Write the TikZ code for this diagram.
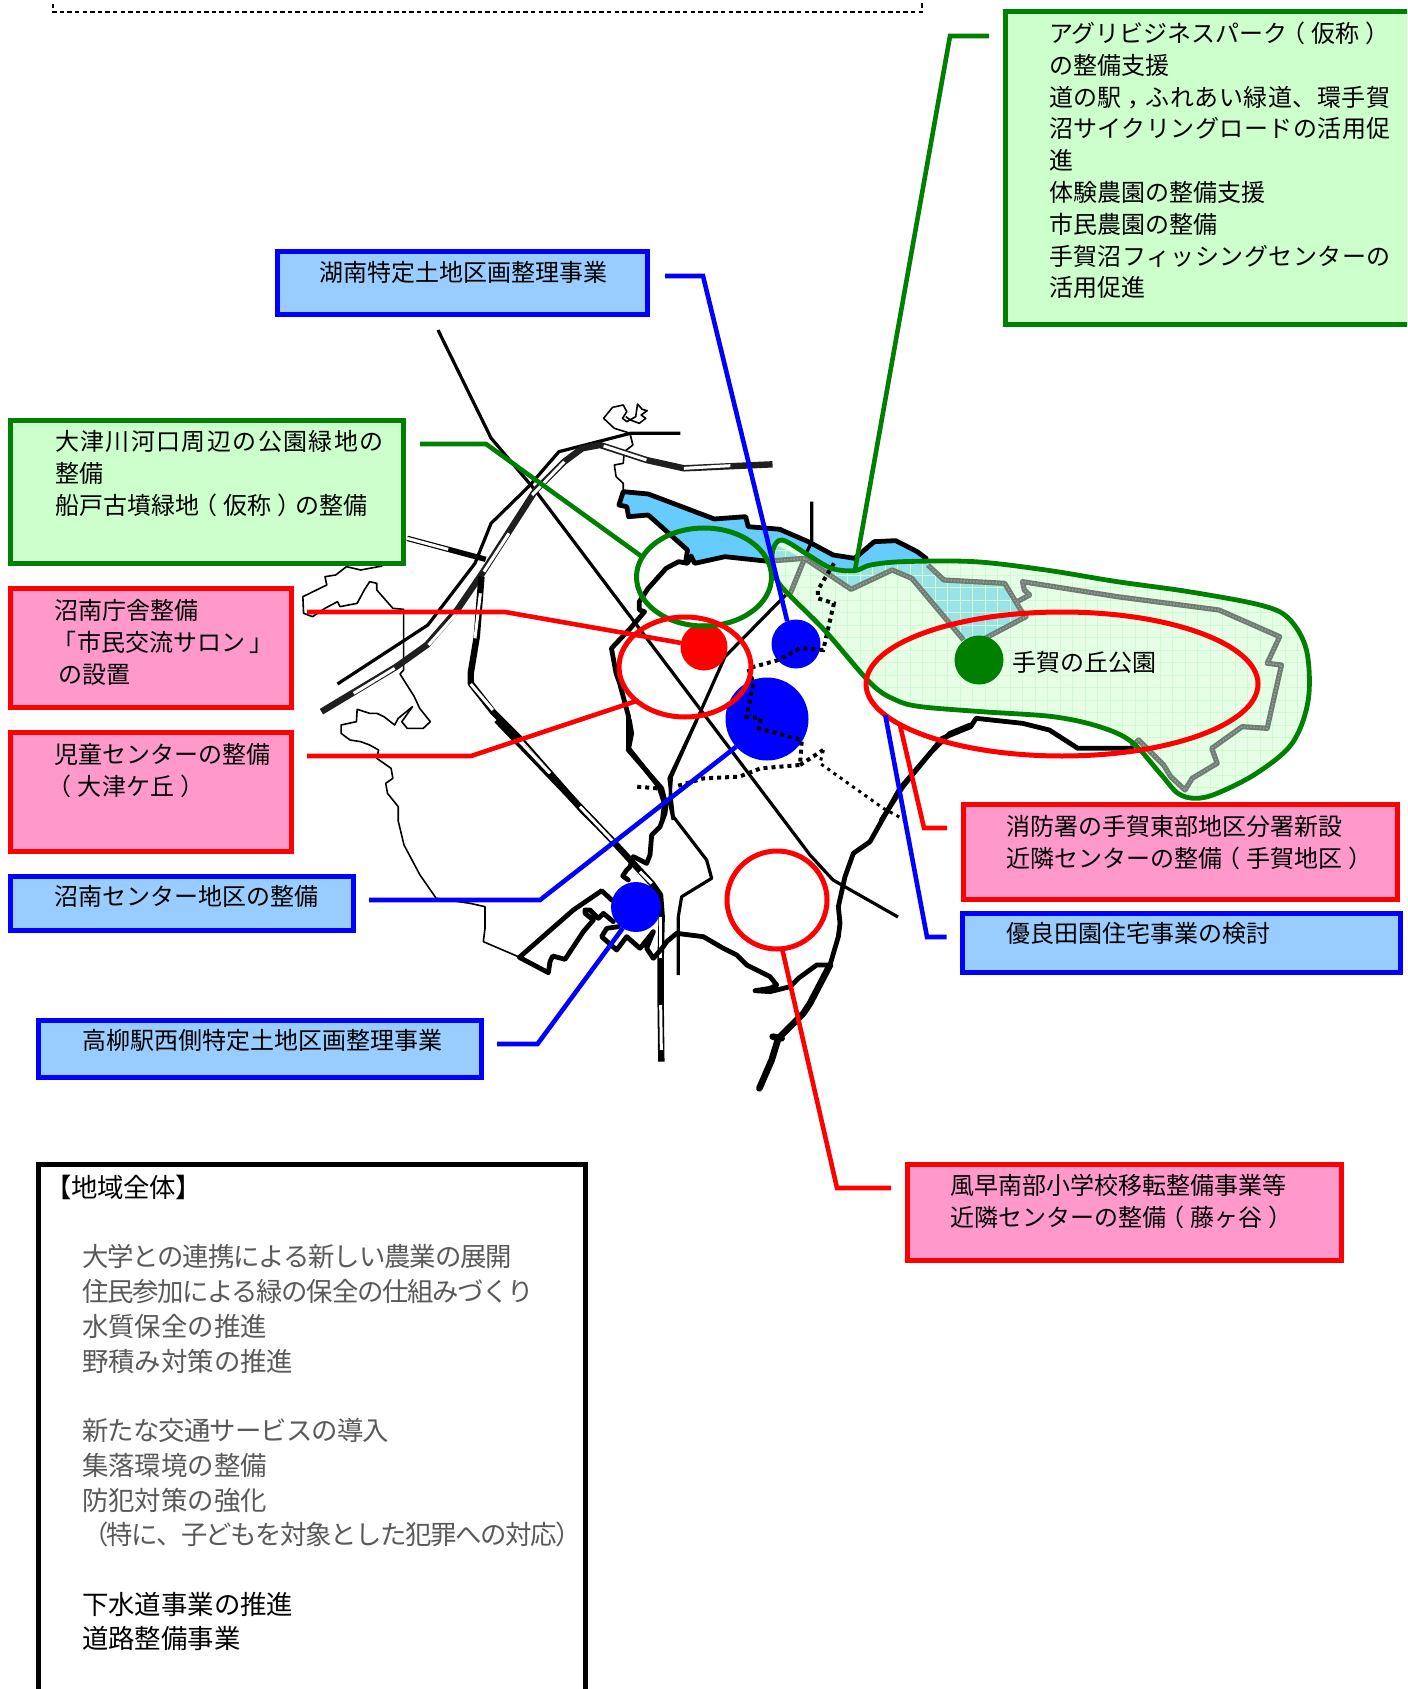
\documentclass[tikz,border=0pt]{standalone}
\usepackage{fontspec}
\setmainfont{Noto Sans CJK JP}
\usetikzlibrary{shapes.geometric}
\definecolor{gStroke}{HTML}{008000}
\definecolor{gFill}{HTML}{CCFFCC}
\definecolor{rFill}{HTML}{FF99CC}
\definecolor{bFill}{HTML}{99CCFF}
\definecolor{water}{HTML}{66CCFF}
\definecolor{parkfill}{HTML}{E6FEE6}
\definecolor{parkgrid}{HTML}{D2FAD2}
\definecolor{parkwater}{HTML}{99E3E6}
\definecolor{hatchA}{HTML}{6F7C72}
\definecolor{hatchB}{HTML}{98A49C}
\definecolor{soft}{HTML}{595959}
\tikzset{
  zA/.style={shift={(300,320)},xscale=.35714,yscale=.33333},
  zB/.style={shift={(760,500)},xscale=.35714,yscale=.33333},
  zC/.style={shift={(470,720)},xscale=.33333,yscale=.33333},
  boxg/.style={anchor=north west,draw=gStroke,fill=gFill,line width=2.4pt,outer sep=0pt,inner sep=0pt},
  boxr/.style={anchor=north west,draw=red,fill=rFill,line width=2.4pt,outer sep=0pt,inner sep=0pt},
  boxb/.style={anchor=north west,draw=blue,fill=bFill,line width=2.4pt,outer sep=0pt,inner sep=0pt},
  boxk/.style={anchor=north west,draw=black,fill=white,line width=2.6pt,outer sep=0pt,inner sep=0pt},
  txt/.style={anchor=north west,inner sep=0pt,outer sep=0pt,align=left,font=\fontsize{12}{15.9}\selectfont},
  road/.style={draw=black,line width=1.6pt,line join=round},
  bound/.style={draw=black,line width=2.4pt,line join=round,line cap=round},
  coast/.style={draw=black,line width=.8pt,line join=round},
  rail/.style={draw=black!88,line width=3.2pt,line join=round},
  railw/.style={draw=white,line width=1.5pt},
  dots/.style={draw=black,line width=2pt,dash pattern=on 2pt off 2pt},
  dotsthin/.style={draw=black,line width=1.5pt,dash pattern=on 1.6pt off 2.2pt},
  hatch/.style={draw=hatchA,line width=2.6pt,line join=round},
  hatchtop/.style={draw=hatchB,line width=.7pt,dash pattern=on .7pt off .9pt},
  conng/.style={draw=gStroke,line width=2.3pt,line join=miter},
  connr/.style={draw=red,line width=2.3pt,line join=miter},
  connb/.style={draw=blue,line width=2.3pt,line join=miter},
  ring/.style={ellipse,draw,line width=2.5pt,inner sep=0pt,outer sep=0pt},
  disc/.style={circle,inner sep=0pt,outer sep=0pt}
}
\newcommand{\ind}{\hspace*{18.5pt}}
\newcommand{\gl}[1]{\textcolor{soft}{#1}}
\newcommand{\lsp}[2]{{\addfontfeature{LetterSpace=#1}#2}}
\newcommand{\lpr}{\kern-3pt（\kern3pt}
\newcommand{\rpr}{\kern3pt）\kern-3pt}
\newcommand{\parkpath}{plot[smooth cycle,tension=.55] coordinates {(38,205)(36,150)(62,120)(135,165)(200,205)(265,212)(310,195)(400,185)(600,185)(800,210)(1000,245)(1200,275)(1400,315)(1480,355)(1530,450)(1535,600)(1490,730)(1390,820)(1280,880)(1220,895)(1170,880)(1120,820)(1040,725)(950,680)(820,650)(620,635)(450,620)(380,600)(310,550)(180,390)(60,260)}}
\begin{document}
\begin{tikzpicture}[x=.5pt,y=-.5pt]
\useasboundingbox (0,0) rectangle (1407,1689);
\clip (0,0) rectangle (1407,1689);
\fill[white] (0,0) rectangle (1407,1689);

% dashed frame at the top edge
\draw[black,line width=.6pt,dash pattern=on 2.2pt off 1.6pt] (53,-4) -- (53,12) -- (922,12) -- (922,-4);

% water
\fill[water,zA] (905,515)--(975,522)--(1160,597)--(1248,590)--(1255,620)--(1345,628)--(1430,665)--(1495,705)--(1560,715)--(1600,730)--(1600,790)--(1520,770)--(1320,725)--(1190,710)--(1105,730)--(1085,690)--(975,585)--(920,590)--(915,560)--(893,555)--cycle;
\fill[water,zB] (0,85)--(55,88)--(135,125)--(205,165)--(265,175)--(320,125)--(380,122)--(440,155)--(465,175)--(470,195)--(300,215)--(100,200)--(0,160)--cycle;

% park area
\fill[parkfill,zB] \parkpath;
\begin{scope}
\clip[zB] \parkpath;
\fill[parkwater,zB] (45,135)--(125,178)--(42,182)--cycle;
\fill[parkwater,zB] (135,165)--(255,268)--(370,210)--(425,235)--(575,425)--(625,412)--(745,350)--(685,250)--(515,240)--(460,180)--(300,190)--(265,205)--(200,200)--cycle;
\foreach \i in {0,...,46} \draw[parkgrid,line width=.35pt] (760+\i*12.5,500) -- (760+\i*12.5,820);
\foreach \i in {0,...,26} \draw[parkgrid,line width=.35pt] (760,500+\i*12.5) -- (1340,500+\i*12.5);
\end{scope}

% park boundary (hatched grey)
\begin{scope}[zB]
\foreach \st in {hatch,hatchtop}{
\draw[\st] (40,182)--(125,175)--(255,268)--(370,210)--(425,235)--(570,420);
\draw[\st] (125,175)--(85,280);
\draw[\st] (470,195)--(515,240)--(685,250)--(730,330)--(745,350)--(630,415);
\draw[\st] (720,305)--(755,285)--(740,270)--(735,245)--(1000,290)--(1285,330)--(1455,410)--(1420,490)--(1460,495)--(1420,685)--(1350,680)--(1265,745)--(1280,790)--(1210,835)--(1190,870)--(1150,830)--(1130,795)--(1060,720)--(1040,740);
}
\end{scope}

% thin coast lines
\begin{scope}[zA]
\draw[coast] (925,340)--(880,325)--(850,295)--(875,262)--(905,255)--(915,275)--(903,295)--(915,305)--(940,290)--(945,252)--(958,268)--(972,272)--(955,285)--(968,295)--(950,310)--(925,300)--(912,290);
\draw[coast] (925,345)--(932,375)--(908,395)--(905,430)--(880,435)--(885,470)--(905,490)--(905,515);
\draw[coast] (230,738)--(170,750)--(130,740)--(100,765)--(70,770)--(75,795)--(8,830)--(10,880)--(35,890)--(70,865)--(105,845)--(112,860)--(160,850)--(180,810)--(195,785)--(215,790)--(215,810)--(260,865)--(290,868)--(290,1050)--(280,1062)--(320,1130)--(335,1165)--(365,1205)--(345,1225)--(300,1225)--(285,1205)--(315,1160)--(275,1195)--(265,1215)--(235,1190)--(215,1180)--(195,1180)--(160,1168)--(158,1205)--(115,1215)--(115,1240)--(140,1260)--(170,1265)--(195,1275)--(220,1290)--(215,1315)--(255,1345)--(260,1375)--(240,1390)--(245,1420)--(275,1460)--(275,1500);
\end{scope}
\draw[coast] (398,820)--(404,845)--(420,875)--(436,898);
\draw[coast,zC] (-100,535)--(0,550)--(45,560)--(45,625)--(40,665)--(145,710);

% roads
\draw[road] (438,330)--(491,438)--(535,490)--(810,855)--(833,880)--(898,917);
\begin{scope}[zA]
\draw[road] (105,1092)--(358,915)--(490,730)--(535,610)--(640,500)--(725,395)--(925,340)--(1065,340);
\draw[road] (1360,825)--(1190,1010)--(1040,1370)--(1035,1450)--(1045,1500);
\draw[road] (1433,545)--(1433,665)--(1415,705);
\draw[rail] (60,1175)--(270,1040)--(355,975)--(440,870)--(510,760)--(660,510)--(740,425)--(790,385)--(840,375)--(970,420)--(1075,445)--(1323,433);
\draw[railw] (150,1120)--(265,1045);
\draw[railw] (360,975)--(440,878);
\draw[railw] (515,755)--(585,640);
\draw[railw] (650,525)--(740,425);
\draw[railw] (850,378)--(970,420);
\draw[railw] (1075,445)--(1205,437);
\draw[draw=black,line width=2.7pt] (300,655)--(520,718);
\draw[railw] (300,655)--(415,688);
\draw[rail,draw=black] (508,770)--(495,950)--(478,1060)--(478,1090)--(540,1175)--(610,1250)--(700,1360)--(790,1470)--(830,1512);
\draw[railw] (505,820)--(490,955);
\draw[railw] (478,1092)--(540,1170);
\draw[railw] (620,1265)--(700,1360);
\draw[railw] (785,1462)--(825,1508);
\end{scope}
\begin{scope}[zC]
\draw[road] (680,0)--(597,175)--(610,290)--(710,420)--(725,475)--(635,530)--(625,590)--(625,765);
\draw[rail,draw=black] (80,0)--(430,365)--(545,490)--(570,525)--(575,590)--(572,715)--(572,855)--(574,1025);
\draw[railw] (150,65)--(240,160);
\draw[railw] (330,260)--(430,365);
\draw[railw] (510,455)--(545,490);
\draw[railw] (572,590)--(572,715);
\draw[railw] (572,855)--(574,990);
\end{scope}

% thick river and city boundary
\begin{scope}[zA]
\draw[bound] (1345,628)--(1255,620)--(1248,590)--(1160,597)--(975,522)--(905,515)--(893,555)--(915,560)--(920,590)--(975,585)--(1085,690)--(1080,725);
\draw[bound] (1320,725)--(1190,710)--(1105,730)--(1095,708)--(1085,730)--(1060,725)--(1025,745)--(975,805)--(950,845)--(950,870)--(965,875)--(925,925)--(872,985)--(885,1060)--(895,1090)--(920,1190)--(920,1285)--(1005,1400)--(1020,1450)--(1015,1500);
\end{scope}
\draw[bound,zB] (55,88)--(135,125)--(205,165)--(265,175)--(320,125)--(380,122)--(440,155)--(465,175);
\begin{scope}[zC]
\draw[bound] (478,0)--(485,40)--(475,90)--(575,205)--(588,255)--(585,280)--(570,320)--(545,345)--(540,405)--(530,430)--(490,410)--(480,440)--(470,450)--(458,468)--(475,480);
\draw[bound] (425,540)--(395,512)--(310,570)--(148,712)--(235,758)--(240,725)--(248,708)--(285,718)--(340,635)--(370,600)--(345,580)--(345,570)--(360,570)--(385,595)--(400,580)--(430,605);
\draw[bound] (445,620)--(410,625)--(395,650)--(440,690)--(470,650)--(510,685)--(550,635)--(530,685)--(550,715)--(580,680)--(590,665)--(620,640)--(700,650)--(760,685)--(800,705)--(830,735)--(900,770)--(920,795)--(900,805)--(855,812)--(900,815)--(960,800)--(985,775)--(1040,735)--(1080,735)--(1105,650)--(1110,610)--(1105,560)--(1125,470)--(1150,400)--(1200,365)--(1290,205)--(1380,100)--(1440,40)--(1500,15);
\draw[bound,line width=3.3pt] (1080,735)--(1020,850)--(1000,880)--(925,955)--(905,1020)--(868,1105);
\draw[bound,line width=3.3pt] (908,950)--(935,955);
\end{scope}
\draw[bound,zB] (340,960)--(400,860)--(510,715)--(590,680)--(605,655)--(735,670)--(810,690)--(890,745)--(1000,745)--(1040,745);

% discs
\node[disc,fill=blue,minimum size=83pt*.5] (bigBlue) at (767,719) {};
\node[disc,fill=blue,minimum size=49pt*.5] (blueN) at (796,644) {};
\node[disc,fill=blue,minimum size=50pt*.5] (blueS) at (636,907) {};
\node[disc,fill=red,minimum size=47pt*.5] (redDot) at (704,647) {};
\node[disc,fill=gStroke,minimum size=49pt*.5] (greenDot) at (979,660) {};

% dotted lines
\begin{scope}[zA]
\draw[dots] (1495,730)--(1450,810)--(1450,835)--(1495,850)--(1465,990)--(1400,985)--(1340,1020)--(1255,1045)--(1270,1090)--(1250,1190)--(1290,1195)--(1285,1225)--(1405,1260)--(1400,1335)--(1290,1345)--(1230,1370)--(1130,1375)--(1050,1400);
\draw[dots] (1000,1405)--(942,1400);
\draw[dots] (1400,1335)--(1465,1290);
\end{scope}
\draw[dotsthin,zC] (1060,90)--(1050,130)--(1240,265)--(1310,303);

% park outline
\draw[gStroke,line width=2.4pt,zB] \parkpath;

% rings
\node[ring,draw=gStroke,minimum width=135pt*.5,minimum height=98pt*.5] (ringG) at (704,577) {};
\node[ring,draw=red,minimum width=132pt*.5,minimum height=100pt*.5] (ringR) at (685,667) {};
\node[ring,draw=red,minimum width=392pt*.5,minimum height=144pt*.5] (ringPark) at (1062,684) {};
\node[ring,draw=red,minimum width=100pt*.5,minimum height=98pt*.5] (ringS) at (777,900) {};

% boxes
\node[boxb,minimum width=185pt,minimum height=31.5pt] (bKonan) at (277.5,251.5) {};
\node[boxg,minimum width=207.5pt,minimum height=156.5pt] (bTop) at (1005.5,11.5) {};
\node[boxg,minimum width=196.5pt,minimum height=71.5pt] (bOtsu) at (10.5,420.5) {};
\node[boxr,minimum width=140.5pt,minimum height=59.5pt] (bChosha) at (10.5,588.5) {};
\node[boxr,minimum width=140.5pt,minimum height=59.5pt] (bJido) at (10.5,732.5) {};
\node[boxb,minimum width=171.5pt,minimum height=27pt] (bCenter) at (10.5,876.5) {};
\node[boxb,minimum width=221.5pt,minimum height=28.5pt] (bTaka) at (38.5,1020.5) {};
\node[boxr,minimum width=217pt,minimum height=47.5pt] (bShobo) at (963.5,804.5) {};
\node[boxb,minimum width=219pt,minimum height=29.5pt] (bYuryo) at (962.5,913.5) {};
\node[boxr,minimum width=217pt,minimum height=48pt] (bKaza) at (907.5,1164.5) {};
\node[boxk,minimum width=273.5pt,minimum height=280pt] (bAll) at (38.5,1164.5) {};

% connector ends
\coordinate (eKonan) at (665,276);
\coordinate (kKonan) at (703,276);
\coordinate (eTop) at (989,36);
\coordinate (kTop) at (950,36);
\coordinate (ePark) at (855,570);
\coordinate (eOtsu) at (420,444);
\coordinate (kOtsu) at (486,444);
\coordinate (eChosha) at (307,612);
\coordinate (kChosha) at (505,612);
\coordinate (eJido) at (307,756);
\coordinate (kJido) at (471,756);
\coordinate (eCenter) at (369,900);
\coordinate (kCenter) at (540,900);
\coordinate (eTaka) at (497,1044);
\coordinate (kTaka) at (537.5,1044);
\coordinate (eShobo) at (947,828);
\coordinate (kShobo) at (924,828);
\coordinate (eYuryo) at (946.5,937);
\coordinate (kYuryo) at (927,937);
\coordinate (eKaza) at (891,1188);
\coordinate (kKaza) at (837,1188);

% connectors
\draw[connb] (eKonan) -- (kKonan) -- (blueN.111);
\draw[conng] (eTop) -- (kTop) -- (ePark);
\draw[conng] (eOtsu) -- (kOtsu) -- (ringG.162);
\draw[connr] (eChosha) -- (kChosha) -- (redDot.170);
\draw[connr] (eJido) -- (kJido) -- (ringR.215);
\draw[connb] (eCenter) -- (kCenter) -- (bigBlue.222);
\draw[connb] (eTaka) -- (kTaka) -- (blueS.238);
\draw[connr] (eShobo) -- (kShobo) -- (ringPark.194);
\draw[connb] (eYuryo) -- (kYuryo) -- (ringPark.190);
\draw[connr] (eKaza) -- (kKaza) -- (ringS.276);

% texts
\node[txt] (tKonan) at (319,261.5) {湖南特定土地区画整理事業};
\node[txt] (tTop) at (1049,22) {アグリビジネスパーク\lpr 仮称\rpr\\の整備支援\\\lsp{2}{道の駅\kern3pt，\kern-3pt ふれあい緑道、環手賀}\\\lsp{2}{沼サイクリングロードの活用促}\\進\\体験農園の整備支援\\市民農園の整備\\\lsp{2}{手賀沼フィッシングセンターの}\\活用促進};
\node[txt] (tOtsu) at (55,430.5) {\lsp{5.8}{大津川河口周辺の公園緑地の}\\整備\\船戸古墳緑地\lpr 仮称\rpr の整備};
\node[txt] (tChosha) at (54,599.5) {沼南庁舎整備\\\kern-1pt「\kern1pt 市民交流サロン\kern2pt」\\\hspace*{2pt}の設置};
\node[txt] (tJido) at (54,743.5) {児童センターの整備\\\lpr 大津ケ丘\rpr};
\node[txt] (tCenter) at (54,885.5) {沼南センター地区の整備};
\node[txt] (tTaka) at (82,1029.5) {高柳駅西側特定土地区画整理事業};
\node[txt] (tShobo) at (1006,815.5) {消防署の手賀東部地区分署新設\\近隣センターの整備\lpr 手賀地区\rpr};
\node[txt] (tYuryo) at (1006,922.5) {優良田園住宅事業の検討};
\node[txt] (tKaza) at (950,1174.5) {風早南部小学校移転整備事業等\\近隣センターの整備\lpr 藤ヶ谷\rpr};
\node[txt] (tPark) at (1012,651.5) {手賀の丘公園};
\node[txt,font=\fontsize{13.2}{17.37}\selectfont] (tAll) at (45,1175) {\lsp{-1.5}{【地域全体】}\\ \\\ind\gl{\lsp{-4.2}{大学との連携による新しい農業の展開}}\\\ind\gl{\lsp{-5}{住民参加による緑の保全の仕組みづくり}}\\\ind\gl{水質保全の推進}\\\ind\gl{野積み対策の推進}\\ \\\ind\gl{\lsp{-3.4}{新たな交通サービスの導入}}\\\ind\gl{集落環境の整備}\\\ind\gl{防犯対策の強化}\\\ind\gl{\lsp{-5.5}{（特に、子どもを対象とした犯罪への対応）}}\\ \\\ind 下水道事業の推進\\\ind 道路整備事業};
\end{tikzpicture}
\end{document}
